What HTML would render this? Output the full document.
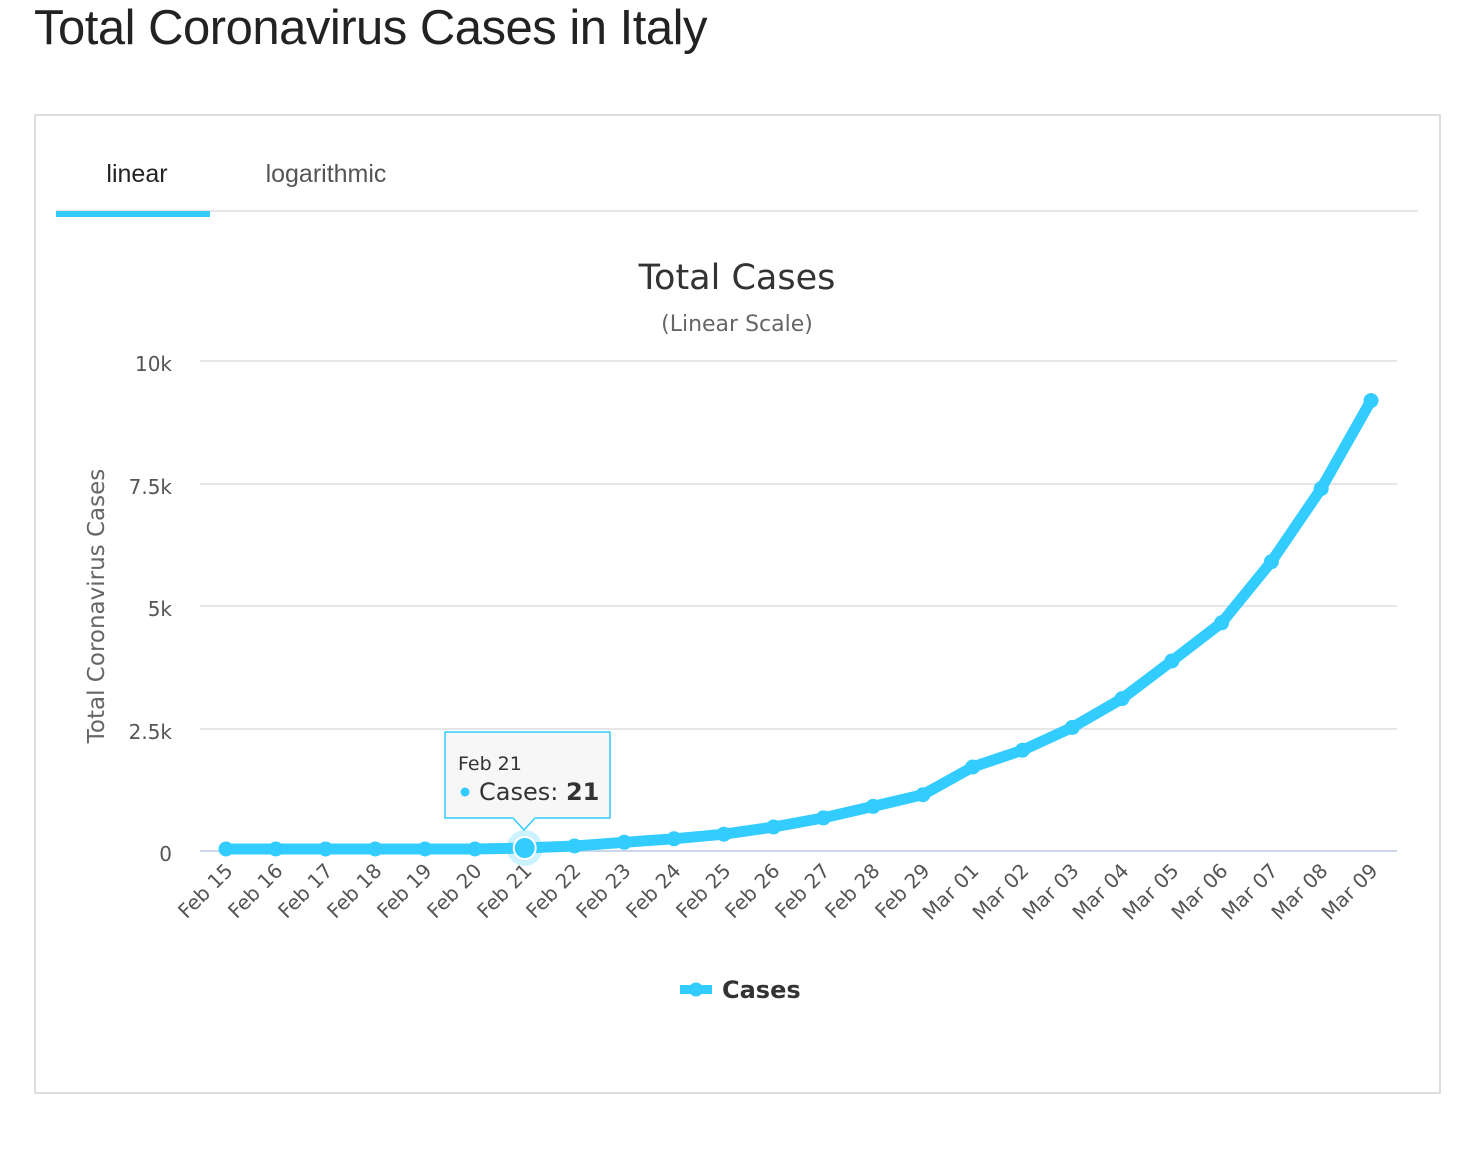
<!DOCTYPE html>
<html><head><meta charset="utf-8"><style>
body{margin:0;background:#fff;width:1457px;height:1162px;overflow:hidden;position:relative;font-family:"Liberation Sans",sans-serif}
h1{position:absolute;left:34px;top:0px;margin:0;font-weight:normal;font-size:49px;color:#222;letter-spacing:-0.5px}
.box{position:absolute;left:34px;top:114px;width:1407px;height:980px;border:2px solid #ddd;box-sizing:border-box}
</style></head><body>
<h1>Total Coronavirus Cases in Italy</h1>
<div class="box"></div>
<svg width="1457" height="1162" style="position:absolute;left:0;top:0" font-family="DejaVu Sans, sans-serif">
<text x="137" y="182" font-family="Liberation Sans" font-size="25" fill="#222" text-anchor="middle">linear</text>
<text x="326" y="182" font-family="Liberation Sans" font-size="25" fill="#555" text-anchor="middle">logarithmic</text>
<line x1="56" y1="211" x2="1418" y2="211" stroke="#e6e6e6" stroke-width="2"/>
<rect x="56" y="211" width="154" height="6" fill="#33ccff"/>
<text x="737" y="289" font-size="35" fill="#333" text-anchor="middle">Total Cases</text>
<text x="737" y="331" font-size="22" fill="#666" text-anchor="middle">(Linear Scale)</text>
<g stroke="#e6e6e6" stroke-width="2">
<line x1="200" y1="361" x2="1397" y2="361"/><line x1="200" y1="484" x2="1397" y2="484"/>
<line x1="200" y1="606" x2="1397" y2="606"/><line x1="200" y1="729" x2="1397" y2="729"/>
</g>
<line x1="200" y1="851" x2="1397" y2="851" stroke="#ccd6eb" stroke-width="2"/>
<g font-size="20" fill="#555" text-anchor="end">
<text x="172" y="371">10k</text><text x="172" y="494">7.5k</text><text x="172" y="616">5k</text><text x="172" y="739">2.5k</text><text x="172" y="861">0</text>
</g>
<text transform="translate(104,606) rotate(-90)" font-size="23" fill="#666" text-anchor="middle">Total Coronavirus Cases</text>
<g font-size="20" fill="#555" text-anchor="end">
<text transform="translate(234,872) rotate(-45)">Feb 15</text>
<text transform="translate(284,872) rotate(-45)">Feb 16</text>
<text transform="translate(334,872) rotate(-45)">Feb 17</text>
<text transform="translate(383,872) rotate(-45)">Feb 18</text>
<text transform="translate(433,872) rotate(-45)">Feb 19</text>
<text transform="translate(483,872) rotate(-45)">Feb 20</text>
<text transform="translate(533,872) rotate(-45)">Feb 21</text>
<text transform="translate(582,872) rotate(-45)">Feb 22</text>
<text transform="translate(632,872) rotate(-45)">Feb 23</text>
<text transform="translate(682,872) rotate(-45)">Feb 24</text>
<text transform="translate(732,872) rotate(-45)">Feb 25</text>
<text transform="translate(781,872) rotate(-45)">Feb 26</text>
<text transform="translate(831,872) rotate(-45)">Feb 27</text>
<text transform="translate(881,872) rotate(-45)">Feb 28</text>
<text transform="translate(931,872) rotate(-45)">Feb 29</text>
<text transform="translate(980,872) rotate(-45)">Mar 01</text>
<text transform="translate(1030,872) rotate(-45)">Mar 02</text>
<text transform="translate(1080,872) rotate(-45)">Mar 03</text>
<text transform="translate(1130,872) rotate(-45)">Mar 04</text>
<text transform="translate(1180,872) rotate(-45)">Mar 05</text>
<text transform="translate(1229,872) rotate(-45)">Mar 06</text>
<text transform="translate(1279,872) rotate(-45)">Mar 07</text>
<text transform="translate(1329,872) rotate(-45)">Mar 08</text>
<text transform="translate(1379,872) rotate(-45)">Mar 09</text>
</g>
<polyline fill="none" stroke="#33ccff" stroke-width="11" stroke-linejoin="round" stroke-linecap="round" points="226,849 275.8,849 325.6,849 375.3,849 425.1,849 474.9,849 524.7,848 574.5,846 624.2,842.3 674,838.8 723.8,834.2 773.6,827 823.4,817.9 873.1,806.4 922.9,794.7 972.7,767 1022.5,750.2 1072.3,727.4 1122,698.6 1171.8,661 1221.6,622.8 1271.4,561.7 1321.2,488.6 1371,400.6"/>
<g fill="#33ccff">
<circle cx="226" cy="849" r="7.5"/><circle cx="275.8" cy="849" r="7.5"/><circle cx="325.6" cy="849" r="7.5"/><circle cx="375.3" cy="849" r="7.5"/><circle cx="425.1" cy="849" r="7.5"/><circle cx="474.9" cy="849" r="7.5"/><circle cx="574.5" cy="846" r="7.5"/><circle cx="624.2" cy="842.3" r="7.5"/><circle cx="674" cy="838.8" r="7.5"/><circle cx="723.8" cy="834.2" r="7.5"/><circle cx="773.6" cy="827" r="7.5"/><circle cx="823.4" cy="817.9" r="7.5"/><circle cx="873.1" cy="806.4" r="7.5"/><circle cx="922.9" cy="794.7" r="7.5"/><circle cx="972.7" cy="767" r="7.5"/><circle cx="1022.5" cy="750.2" r="7.5"/><circle cx="1072.3" cy="727.4" r="7.5"/><circle cx="1122" cy="698.6" r="7.5"/><circle cx="1171.8" cy="661" r="7.5"/><circle cx="1221.6" cy="622.8" r="7.5"/><circle cx="1271.4" cy="561.7" r="7.5"/><circle cx="1321.2" cy="488.6" r="7.5"/><circle cx="1371" cy="400.6" r="7.5"/>
</g>
<circle cx="524.7" cy="848" r="18" fill="#33ccff" opacity="0.25"/>
<circle cx="524.7" cy="848" r="11" fill="#33ccff" stroke="#fff" stroke-width="2"/>
<path d="M445,732 H610 V818 H535 L524,830 L513,818 H445 Z" fill="#f7f7f7" stroke="#33ccff" stroke-width="1.5"/>
<text x="458" y="770" font-size="19" fill="#333">Feb 21</text>
<circle cx="465" cy="792" r="4.5" fill="#33ccff"/>
<text x="479" y="800" font-size="24" fill="#333">Cases: <tspan font-weight="bold">21</tspan></text>
<rect x="680" y="985" width="32" height="9" fill="#33ccff"/>
<circle cx="696" cy="989.5" r="7" fill="#33ccff"/>
<text x="722" y="998" font-size="24" font-weight="bold" fill="#333">Cases</text>
</svg>
</body></html>
